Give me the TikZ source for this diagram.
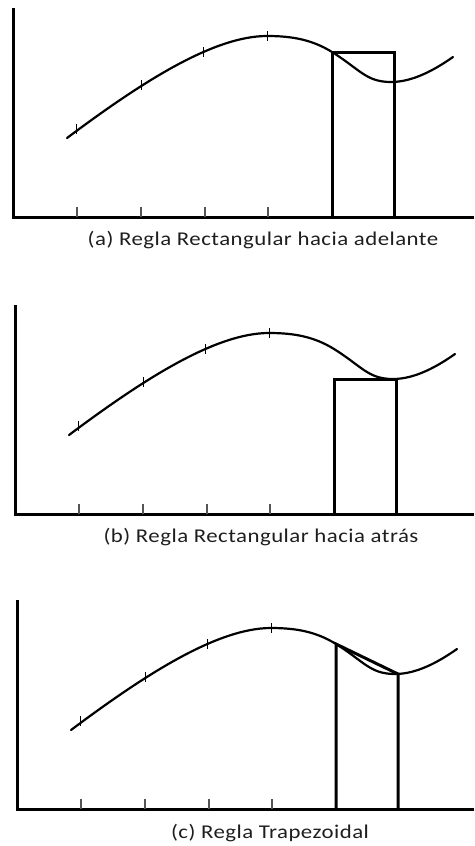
\documentclass[tikz,border=0pt]{standalone}
\usepackage{fontspec}
\setmainfont{Carlito}
\newfontfamily\capfont{Carlito}[FakeStretch=1.17,LetterSpace=2.5]
\usepackage{xcolor}
\definecolor{cInk}{HTML}{000000}
\definecolor{cText}{HTML}{1E1E1E}
\definecolor{cTick}{HTML}{555555}
\usepackage{tikz}
\tikzset{
  axis-line/.style={draw=cInk,line width=3pt,line join=miter},
  curve-line/.style={draw=cInk,line width=2.2pt,line cap=round},
  rule-line/.style={draw=cInk,line width=3pt,line join=miter},
  tick-curve/.style={draw=cInk,line width=0.9pt},
  tick-axis/.style={draw=cTick,line width=1.2pt},
  caption/.style={font=\capfont\fontsize{19.5}{22}\selectfont,text=cText,inner sep=0pt},
}
% la misma curva f(x) en los tres paneles
\newcommand{\fcurve}{(67,138) .. controls (138,85) and (212,36) .. (267,36)
  .. controls (292,36) and (312,39.6) .. (332,52)
  .. controls (360,69.4) and (366,82) .. (391,82)
  .. controls (413,82) and (435,69.6) .. (453,57)}
% ejes + marcas; #1 = extremo derecho del eje x
\newcommand{\drawaxes}[1]{%
  \draw[axis-line] (13,8) -- (13,217) -- (#1,217);
  \foreach \x in {77,141,205,268} \draw[tick-axis] (\x,217) -- (\x,207);
  \foreach \x/\y in {76/129,141/85,203/52,267/36}
    \draw[tick-curve] (\x,{\y-5}) -- (\x,{\y+5});
  \draw[curve-line] \fcurve;
}

\begin{document}
\begin{tikzpicture}[x=1pt,y=-1pt]
  \useasboundingbox (0,0) rectangle (474,846);

  % (a) hacia adelante
  \begin{scope}
    \drawaxes{474}
    \draw[rule-line] (332,217) -- (332,52) -- (394,52) -- (394,217);
    \node[caption] (capA) at (263,240) {(a) Regla Rectangular hacia adelante};
  \end{scope}

  % (b) hacia atrás
  \begin{scope}[shift={(2,297)}]
    \drawaxes{472}
    \draw[rule-line] (332,217) -- (332,82) -- (394,82) -- (394,217);
    \node[caption] (capB) at (259,240) {(b) Regla Rectangular hacia atrás};
  \end{scope}

  % (c) trapezoidal
  \begin{scope}[shift={(4,592)}]
    \drawaxes{470}
    \draw[rule-line] (332,217) -- (332,52) -- (394,82) -- (394,217);
    \node[caption] (capC) at (266,241) {(c) Regla Trapezoidal};
  \end{scope}
\end{tikzpicture}
\end{document}
